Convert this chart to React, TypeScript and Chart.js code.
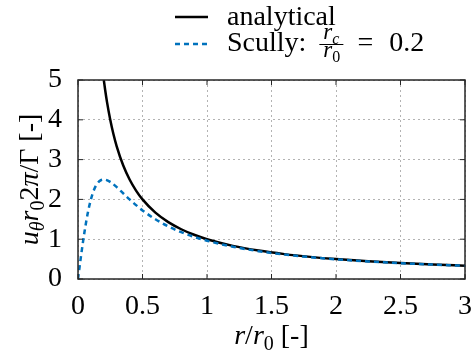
import React, { useEffect, useRef } from "react";
import { Chart, registerables } from "chart.js";

Chart.register(...registerables);

// ---- data ----
const analyticalR = [0.2, 0.21, 0.225, 0.25, 0.275, 0.3, 0.35, 0.4, 0.45, 0.5, 0.6, 0.7, 0.8, 0.9, 1.0, 1.2, 1.4, 1.6, 1.8, 2.0, 2.25, 2.5, 2.75, 3.0];
const analyticalU = [5.0, 4.762, 4.444, 4.0, 3.636, 3.333, 2.857, 2.5, 2.222, 2.0, 1.667, 1.429, 1.25, 1.111, 1.0, 0.833, 0.714, 0.625, 0.556, 0.5, 0.444, 0.4, 0.364, 0.333];
const scullyR = [0, 0.01, 0.02, 0.03, 0.05, 0.075, 0.1, 0.125, 0.15, 0.175, 0.2, 0.25, 0.3, 0.35, 0.4, 0.45, 0.5, 0.6, 0.7, 0.8, 0.9, 1.0, 1.2, 1.4, 1.6, 1.8, 2.0, 2.25, 2.5, 2.75, 3.0];
const scullyU = [0, 0.249, 0.495, 0.733, 1.176, 1.644, 2.0, 2.247, 2.4, 2.478, 2.5, 2.439, 2.308, 2.154, 2.0, 1.856, 1.724, 1.5, 1.321, 1.176, 1.059, 0.962, 0.811, 0.7, 0.615, 0.549, 0.495, 0.441, 0.397, 0.362, 0.332];
const xTicks = [0, 0.5, 1, 1.5, 2, 2.5, 3];
const yTicks = [0, 1, 2, 3, 4, 5];
const legendNames = ["analytical", "Scully:"];
const legendRatio = "0.2";

const FONT = "'Liberation Serif', 'Times New Roman', serif";
const FS = 28;
const BLUE = "#0072BD";

type Seg = { t: string; it?: boolean; sub?: boolean };

function segFont(s: Seg, size: number) {
  const sz = s.sub ? Math.round(size * 0.7) : size;
  return `${s.it ? "italic " : ""}${sz}px ${FONT}`;
}

function drawRich(ctx: CanvasRenderingContext2D, segs: Seg[], x: number, y: number, size: number, align: "left" | "center") {
  let w = 0;
  const widths: number[] = [];
  for (const s of segs) {
    ctx.font = segFont(s, size);
    const m = ctx.measureText(s.t).width;
    widths.push(m);
    w += m;
  }
  let cx = align === "center" ? x - w / 2 : x;
  ctx.textBaseline = "alphabetic";
  ctx.textAlign = "left";
  segs.forEach((s, i) => {
    ctx.font = segFont(s, size);
    ctx.fillText(s.t, cx, s.sub ? y + size * 0.2 : y);
    cx += widths[i];
  });
  return w;
}

const decor = {
  id: "decor",
  afterDraw(chart: any) {
    const { ctx, chartArea: a, scales } = chart;
    ctx.save();
    // frame
    ctx.setLineDash([]);
    ctx.strokeStyle = "#262626";
    ctx.lineWidth = 1.5;
    ctx.strokeRect(a.left, a.top, a.right - a.left, a.bottom - a.top);
    // inward ticks
    ctx.lineWidth = 1;
    ctx.beginPath();
    for (const v of xTicks) {
      const px = scales.x.getPixelForValue(v);
      ctx.moveTo(px, a.bottom);
      ctx.lineTo(px, a.bottom - 5);
      ctx.moveTo(px, a.top);
      ctx.lineTo(px, a.top + 5);
    }
    for (const v of yTicks) {
      const py = scales.y.getPixelForValue(v);
      ctx.moveTo(a.left, py);
      ctx.lineTo(a.left + 5, py);
      ctx.moveTo(a.right, py);
      ctx.lineTo(a.right - 5, py);
    }
    ctx.stroke();

    ctx.fillStyle = "#000";
    // legend
    ctx.lineWidth = 2.5;
    ctx.strokeStyle = "#000";
    ctx.beginPath();
    ctx.moveTo(175, 17);
    ctx.lineTo(208, 17);
    ctx.stroke();
    ctx.strokeStyle = BLUE;
    ctx.setLineDash([5, 4]);
    ctx.beginPath();
    ctx.moveTo(175, 44);
    ctx.lineTo(208, 44);
    ctx.stroke();
    ctx.setLineDash([]);

    ctx.font = `${FS}px ${FONT}`;
    ctx.textAlign = "left";
    ctx.textBaseline = "alphabetic";
    ctx.fillText(legendNames[0], 227, 25);
    ctx.fillText(legendNames[1], 227, 51);
    const sw = ctx.measureText(legendNames[1]).width;
    // fraction r_c / r_0
    const fx = 227 + sw + 13;
    const small = 23;
    const numW = drawRich(ctx, [{ t: "r", it: true }, { t: "c", it: true, sub: true }], fx + 4, 39, small, "left");
    ctx.lineWidth = 1;
    ctx.strokeStyle = "#000";
    ctx.beginPath();
    ctx.moveTo(fx, 44.5);
    ctx.lineTo(fx + numW + 8, 44.5);
    ctx.stroke();
    drawRich(ctx, [{ t: "r", it: true }, { t: "0", sub: true }], fx + 4, 57, small, "left");
    ctx.font = `${FS}px ${FONT}`;
    const ex = fx + numW + 22;
    ctx.fillText("=", ex, 51);
    const eqW = ctx.measureText("=").width;
    ctx.fillText(legendRatio, ex + eqW + 16, 51);

    // x title
    drawRich(ctx, [{ t: "r", it: true }, { t: "/" }, { t: "r", it: true }, { t: "0", sub: true }, { t: " [-]" }], (a.left + a.right) / 2, 344, FS, "center");

    // y title
    ctx.save();
    ctx.translate(38, (a.top + a.bottom) / 2);
    ctx.rotate(-Math.PI / 2);
    drawRich(
      ctx,
      [
        { t: "u", it: true },
        { t: "θ", it: true, sub: true },
        { t: "r", it: true },
        { t: "0", sub: true },
        { t: "2" },
        { t: "π", it: true },
        { t: "/Γ" },
        { t: " [-]" },
      ],
      0,
      0,
      FS,
      "center"
    );
    ctx.restore();
    ctx.restore();
  },
};

export default function App() {
  const ref = useRef<HTMLCanvasElement | null>(null);
  useEffect(() => {
    document.body.style.margin = "0";
    const canvas = ref.current!;
    const chart = new Chart(canvas, {
      type: "line",
      data: {
        datasets: [
          {
            label: "Scully",
            data: scullyR.map((r, i) => ({ x: r, y: scullyU[i] })),
            borderColor: BLUE,
            borderWidth: 2.5,
            borderDash: [5, 4],
            pointRadius: 0,
            fill: false,
            cubicInterpolationMode: "monotone",
          },
          {
            label: "analytical",
            data: analyticalR.map((r, i) => ({ x: r, y: analyticalU[i] })),
            borderColor: "#000",
            borderWidth: 2.5,
            pointRadius: 0,
            fill: false,
            cubicInterpolationMode: "monotone",
          },
        ],
      },
      options: {
        responsive: false,
        animation: false,
        events: [],
        layout: { padding: { left: 0, top: 80, right: 6, bottom: 0 } },
        plugins: { legend: { display: false }, tooltip: { enabled: false }, title: { display: false } },
        scales: {
          x: {
            type: "linear",
            min: 0,
            max: 3,
            afterBuildTicks: (s: any) => {
              s.ticks = xTicks.map((v) => ({ value: v }));
            },
            afterFit: (s: any) => {
              s.height = 77;
              s.paddingLeft = 0;
              s.paddingRight = 0;
            },
            ticks: {
              color: "#000",
              font: { family: FONT, size: FS },
              padding: 11,
              maxRotation: 0,
              autoSkip: false,
              callback: (v: any) => String(v),
            },
            grid: { color: "#b3b3b3", lineWidth: 1, drawTicks: false },
            border: { display: false, dash: [2, 3] },
          },
          y: {
            type: "linear",
            min: 0,
            max: 5,
            afterBuildTicks: (s: any) => {
              s.ticks = yTicks.map((v) => ({ value: v }));
            },
            afterFit: (s: any) => {
              s.width = 78;
              s.paddingTop = 0;
              s.paddingBottom = 0;
            },
            ticks: {
              color: "#000",
              font: { family: FONT, size: FS },
              padding: 16,
              autoSkip: false,
              callback: (v: any) => String(v),
            },
            grid: { color: "#b3b3b3", lineWidth: 1, drawTicks: false },
            border: { display: false, dash: [2, 3] },
          },
        },
      },
      plugins: [decor],
    } as any);
    return () => chart.destroy();
  }, []);
  return (
    <div style={{ width: 471, height: 356 }}>
      <canvas ref={ref} width={471} height={356} style={{ display: "block", width: 471, height: 356 }} />
    </div>
  );
}
